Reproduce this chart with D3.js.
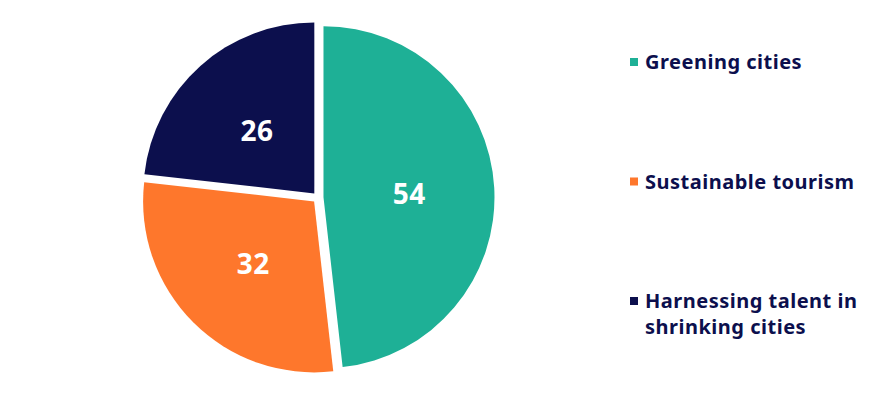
<!DOCTYPE html>
<html>
<head>
<meta charset="utf-8">
<script src="https://cdn.jsdelivr.net/npm/d3@7"></script>
<style>
  body { margin: 0; background: #fff; }
  svg { display: block; font-family: "Noto Sans", "Open Sans", sans-serif; }
  .legend text { font-weight: 700; fill: #0c0f4d; font-size: 20px; letter-spacing: 0.5px; }
  .slice-label { font-weight: 700; fill: #fff; font-size: 28px; letter-spacing: 0.5px; }
</style>
</head>
<body>
<svg id="chart" width="892" height="394"></svg>
<script>
var categories = ['Greening cities', 'Sustainable tourism', 'Harnessing talent in shrinking cities'];
var legendLines = [['Greening cities'], ['Sustainable tourism'], ['Harnessing talent in', 'shrinking cities']];
var values = [54, 32, 26];
var colors = ['#1eb096', '#fe772c', '#0c0f4d'];

var width = 892, height = 394;
var cx = 318, cy = 197.5;
var radius = 171;
var explode = 5.5;

var svg = d3.select('#chart');

var color = d3.scaleOrdinal()
    .domain(categories)
    .range(colors);

var pie = d3.pie()
    .sort(null)
    .value(function(d) { return d; });

var arc = d3.arc()
    .innerRadius(0)
    .outerRadius(radius);

var labelArc = d3.arc()
    .innerRadius(86)
    .outerRadius(86);

var arcs = pie(values);

var g = svg.append('g')
    .attr('transform', 'translate(' + cx + ',' + cy + ')');

// each slice pushed out a bit along its middle angle
function shift(d) {
    var a = (d.startAngle + d.endAngle) / 2;
    return [Math.sin(a) * explode, -Math.cos(a) * explode];
}

var slices = g.selectAll('.slice')
    .data(arcs)
  .enter().append('g')
    .attr('class', 'slice')
    .attr('transform', function(d) {
        var s = shift(d);
        return 'translate(' + s[0] + ',' + s[1] + ')';
    });

slices.append('path')
    .attr('d', arc)
    .attr('fill', function(d, i) { return color(categories[i]); });

slices.append('text')
    .attr('class', 'slice-label')
    .attr('transform', function(d) { return 'translate(' + labelArc.centroid(d) + ')'; })
    .attr('text-anchor', 'middle')
    .attr('dy', '0.42em')
    .text(function(d) { return d.data; });

// legend
var legendY = d3.scalePoint()
    .domain(categories)
    .range([62, 301]);

var legend = svg.append('g')
    .attr('class', 'legend')
    .selectAll('g')
    .data(categories)
  .enter().append('g')
    .attr('transform', function(d) { return 'translate(630,' + legendY(d) + ')'; });

legend.append('rect')
    .attr('x', 0)
    .attr('y', -4)
    .attr('width', 8)
    .attr('height', 8)
    .attr('fill', function(d) { return color(d); });

legend.append('text')
    .attr('x', 15)
    .attr('y', 7)
    .each(function(d, i) {
        var t = d3.select(this);
        legendLines[i].forEach(function(line, j) {
            t.append('tspan')
                .attr('x', 15)
                .attr('dy', j == 0 ? 0 : 26)
                .text(line);
        });
    });
</script>
</body>
</html>
